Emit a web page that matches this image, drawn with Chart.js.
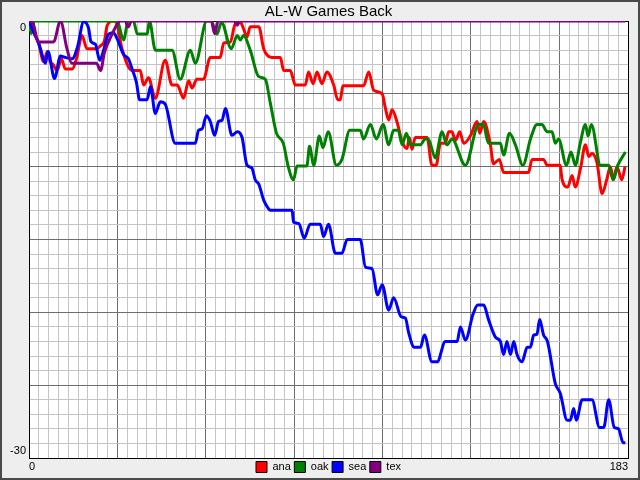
<!DOCTYPE html>
<html>
<head>
<meta charset="utf-8">
<title>AL-W Games Back</title>
<script src="https://cdn.jsdelivr.net/npm/chart.js@4/dist/chart.umd.min.js"></script>
<style>
    html, body { margin: 0; padding: 0; background: #eeeeee; }
    #wrap { position: relative; width: 640px; height: 480px; }
    #frame {
        position: absolute; left: 0; top: 0; width: 640px; height: 480px;
        box-sizing: border-box; border: 2px solid #4a4a4a; pointer-events: none;
    }
</style>
</head>
<body>
<div id="wrap">
    <canvas id="gbChart" width="640" height="480"></canvas>
    <div id="frame"></div>
</div>
<script>
// Games back per team (day of season, games back)
const teams = ['ana', 'oak', 'sea', 'tex'];
const teamColors = ['#ff0000', '#008000', '#0000ff', '#800080'];

const anaDays = [0, 1.4, 2.9, 4.5, 5.6, 6.5, 7.4, 8.6, 9.9, 11.1,
    13.2, 14.5, 16.2, 17.7, 20.8, 21.8, 23.0, 23.9, 25.8, 26.7,
    28.4, 31.5, 34.0, 35.0, 36.5, 38.6, 41.6, 43.7, 45.3, 47.2,
    48.8, 49.8, 51.3, 53.3, 55.4, 58.4, 59.5, 61.5, 63.0, 64.6,
    65.5, 66.6, 67.6, 70.2, 71.7, 74.2, 76.8, 77.8, 79.8, 81.4,
    84.4, 85.4, 86.8, 88.0, 89.5, 91.0, 93.1, 94.3, 95.1, 95.9,
    102.2, 103.8, 105.3, 107.9, 108.9, 109.9, 110.9, 112.4, 114.0, 115.5,
    116.2, 117.0, 118.0, 121.6, 123.1, 124.4, 125.7, 127.2, 128.2, 129.2,
    130.3, 131.6, 132.8, 134.8, 136.9, 137.7, 138.9, 140.9, 141.9, 143.7,
    145.0, 152.6, 153.7, 157.2, 158.3, 162.3, 162.8, 164.6, 165.9, 166.9,
    168.5, 170.0, 171.0, 172.0, 173.5, 175.1, 176.6, 177.6, 178.6, 179.6,
    181.1, 182.1];
const anaBack = [0, -0.75, -1.5, -2.8, -2.1, -2.8, -3.0, -3.4, -2.6, -3.3,
    -3.3, -2.6, -1.0, -1.9, -1.9, -1.7, -1.4, -0.3, 0, -0.1,
    -1.9, -3.4, -3.4, -4.4, -3.9, -5.3, -2.7, -4.4, -4.4, -5.3,
    -4.1, -4.6, -4.0, -4.0, -2.5, -2.5, -1.5, -1.45, -0.2, -0.1,
    -0.5, -1.1, -0.4, -0.4, -1.9, -2.5, -2.5, -3.4, -3.4, -4.4,
    -4.4, -3.5, -4.3, -3.5, -4.3, -3.5, -4.4, -5.4, -5.4, -4.45,
    -4.45, -3.5, -4.75, -5.0, -6.0, -6.8, -6.1, -6.9, -8.3, -8.75,
    -8.0, -8.8, -8.0, -8.0, -9.9, -9.9, -8.4, -8.4, -7.6, -7.6,
    -8.2, -7.6, -8.4, -7.9, -6.9, -7.7, -6.9, -8.4, -9.8, -9.5,
    -10.4, -10.4, -9.5, -9.5, -9.9, -9.9, -10.8, -11.4, -10.6, -11.4,
    -10.1, -8.5, -9.3, -9.1, -9.7, -11.85, -10.8, -10.0, -10.9, -10.0,
    -10.9, -10.0];

const oakDays = [0, 0.7, 1.6, 26.9, 28.9, 30.3, 31.9, 33.1, 36.1, 36.8,
    38.6, 43.7, 46.2, 49.3, 50.8, 54.3, 55.7, 57.4, 58.8, 61.8,
    63.6, 64.6, 65.5, 67.6, 70.1, 72.2, 73.7, 75.6, 77.7, 79.2,
    80.8, 81.9, 84.9, 85.7, 87.0, 88.7, 89.8, 91.4, 93.9, 95.6,
    98.0, 101.2, 102.2, 104.3, 106.1, 108.2, 109.9, 111.4, 112.8, 114.0,
    115.3, 116.5, 119.5, 121.1, 122.0, 124.1, 126.2, 127.7, 129.2, 133.3,
    137.4, 138.8, 140.4, 144.0, 145.0, 146.8, 148.6, 150.9, 153.2, 155.2,
    156.7, 158.3, 159.8, 160.8, 161.8, 164.2, 165.6, 166.9, 168.4, 170.0,
    170.8, 171.8, 174.6, 177.1, 178.4, 179.9, 182.2];
const oakBack = [0, -0.85, 0, 0, -1.3, 0, 0, -0.9, -0.9, 0,
    -2.0, -2.0, -4.0, -2.0, -2.9, 0, 0, -0.9, -0.1, -1.9,
    -1.0, -1.3, -1.0, -2.0, -3.8, -4.0, -5.6, -7.7, -8.4, -10.0,
    -10.9, -9.95, -9.95, -8.6, -9.9, -7.9, -8.7, -7.6, -9.9, -9.5,
    -7.5, -7.5, -8.1, -7.1, -8.1, -7.1, -8.5, -7.5, -7.5, -8.5,
    -7.7, -8.5, -8.5, -8.1, -8.1, -9.4, -7.6, -8.5, -8.1, -9.9,
    -7.1, -7.1, -8.4, -8.4, -9.2, -7.7, -8.5, -9.9, -8.1, -7.1,
    -7.1, -7.6, -7.6, -8.4, -8.1, -9.9, -9.0, -9.9, -8.4, -7.1,
    -7.9, -7.1, -9.9, -9.9, -10.9, -9.9, -9.0];

const seaDays = [0, 1.4, 2.9, 3.5, 5.0, 5.8, 7.8, 9.6, 11.1, 13.2,
    14.8, 16.7, 18.2, 18.9, 20.3, 21.6, 22.8, 24.3, 25.8, 26.9,
    28.9, 30.4, 31.5, 32.8, 33.8, 36.1, 37.1, 38.6, 40.1, 41.6,
    44.7, 50.8, 51.8, 52.9, 54.2, 55.4, 56.7, 57.9, 59.0, 60.0,
    62.0, 63.7, 65.1, 66.6, 68.1, 69.1, 70.2, 71.7, 73.2, 73.7,
    80.4, 80.8, 82.4, 84.1, 85.9, 89.0, 90.0, 91.5, 93.6, 95.6,
    97.2, 101.2, 102.8, 104.8, 106.5, 107.9, 109.9, 111.4, 113.7, 115.0,
    116.0, 117.7, 119.6, 120.8, 123.1, 124.7, 127.2, 130.8, 131.8, 133.3,
    135.7, 137.1, 138.9, 140.4, 142.5, 144.0, 145.0, 146.0, 147.1, 148.1,
    149.1, 150.6, 152.2, 153.2, 154.2, 155.2, 156.0, 157.2, 158.4, 160.8,
    162.3, 164.4, 165.4, 166.4, 167.2, 169.0, 172.0, 174.3, 175.6, 177.1,
    178.8, 180.1, 181.5, 182.2];
const seaBack = [0, -0.75, -1.5, -1.9, -2.9, -2.1, -3.95, -2.4, -2.5, -2.6,
    -1.8, -0.05, -0.5, -1.4, -1.6, -2.7, -2.0, -0.9, -0.8, -1.2,
    -2.3, -2.6, -3.3, -4.2, -5.4, -5.4, -4.5, -6.35, -5.55, -5.7,
    -8.4, -8.4, -7.5, -7.4, -6.5, -6.9, -7.85, -6.9, -6.8, -6.0,
    -7.85, -7.6, -8.0, -9.9, -10.1, -10.9, -11.2, -12.3, -12.9, -13.0,
    -13.0, -13.8, -13.9, -14.9, -13.95, -13.95, -14.8, -13.95, -15.95, -15.95,
    -15.0, -15.0, -16.9, -17.0, -18.8, -18.1, -19.85, -19.0, -20.3, -20.4,
    -21.4, -22.4, -22.4, -21.55, -23.4, -23.4, -22.0, -22.0, -21.0, -21.9,
    -20.1, -19.5, -19.5, -20.5, -21.7, -22.0, -22.9, -22.0, -22.9, -22.0,
    -22.9, -23.4, -22.4, -22.4, -21.55, -21.5, -20.5, -21.55, -22.0, -24.9,
    -25.55, -27.4, -27.4, -26.6, -27.4, -26.0, -26.0, -27.9, -27.9, -26.0,
    -27.9, -28.0, -28.95, -28.95];

const texDays = [0, 1.3, 2.8, 7.5, 9.6, 11.6, 13.1, 20.6, 21.9, 23.0,
    24.3, 25.8, 27.9, 29.4, 30.3, 31.3, 55.7, 56.7, 57.8, 62.7,
    63.6, 64.3, 182.2];
const texBack = [0, -0.2, -1.44, -1.44, 0, -1.9, -2.9, -2.9, -3.4, -2.2,
    -1.44, -0.7, 0, 0, -0.4, 0, 0, -0.87, 0, 0,
    -0.3, 0, 0];

// Axis range and tick labels
const xMax = 183;
const yMin = -30;
const xLabels = { 0: '0', 183: '183' };
const yLabels = { 0: ['', '0'], '-30': ['-30', ''] };

const allDays = [anaDays, oakDays, seaDays, texDays];
const allBack = [anaBack, oakBack, seaBack, texBack];

const FONT = '"Liberation Sans", Arial, sans-serif';

// linear scale whose tick labels are not clipped to the (zero sized) axis box
class OpenLinearScale extends Chart.LinearScale {
    _computeLabelArea() {
        return undefined;
    }
}
OpenLinearScale.id = 'openLinear';
OpenLinearScale.defaults = Chart.LinearScale.defaults;
Chart.register(OpenLinearScale);

// white plot area
const plotBackground = {
    id: 'plotBackground',
    beforeDraw(chart) {
        const a = chart.chartArea;
        const ctx = chart.ctx;
        ctx.save();
        ctx.fillStyle = '#ffffff';
        ctx.fillRect(a.left, a.top, a.right - a.left, a.bottom - a.top);
        ctx.restore();
    }
};

const datasets = teams.map(function(team, i) {
    return {
        label: team,
        data: allDays[i].map((d, j) => ({ x: d, y: allBack[i][j] })),
        borderColor: teamColors[i],
        backgroundColor: teamColors[i],
        borderWidth: 3,
        pointRadius: 0,
        cubicInterpolationMode: 'monotone',
        fill: false,
        order: teams.length - 1 - i   // tex drawn on top
    };
});

new Chart(document.getElementById('gbChart').getContext('2d'), {
    type: 'line',
    data: { datasets: datasets },
    options: {
        responsive: false,
        animation: false,
        devicePixelRatio: 1,
        layout: { padding: { left: 29, right: 12, top: 0, bottom: -2.5 } },
        plugins: {
            title: {
                display: true,
                text: 'AL-W Games Back',
                color: '#000',
                font: { family: FONT, size: 15, weight: 'normal' },
                padding: { top: 3, bottom: 0 }
            },
            legend: {
                position: 'bottom',
                labels: {
                    boxWidth: 11,
                    boxHeight: 11,
                    padding: 3.5,
                    color: '#000',
                    font: { family: FONT, size: 11 },
                    sort: (a, b) => a.datasetIndex - b.datasetIndex,
                    generateLabels: function(chart) {
                        return Chart.defaults.plugins.legend.labels.generateLabels(chart).map(function(item) {
                            item.fillStyle = teamColors[item.datasetIndex];
                            item.strokeStyle = '#000';
                            item.lineWidth = 1;
                            return item;
                        });
                    }
                }
            },
            tooltip: { enabled: false }
        },
        scales: {
            x: {
                type: 'openLinear',
                position: 'bottom',
                min: 0,
                max: xMax,
                afterFit: scale => { scale.height = 0; },
                ticks: {
                    stepSize: 3,
                    autoSkip: false,
                    maxRotation: 0,
                    minRotation: 0,
                    align: 'inner',
                    padding: 2,
                    color: '#000',
                    font: { family: FONT, size: 11 },
                    callback: value => xLabels[value] || ''
                },
                grid: {
                    drawTicks: false,
                    color: ctx => {
                        const v = ctx.tick ? ctx.tick.value : 1;
                        if (v === 0 || v === xMax) return '#000000';
                        return v % 27 === 0 ? '#6e6e6e' : '#c4c4c4';
                    }
                },
                border: { display: true, color: '#000', width: 1 }
            },
            y: {
                type: 'openLinear',
                position: 'left',
                min: yMin,
                max: 0,
                afterFit: scale => { scale.width = 0; },
                ticks: {
                    stepSize: 1,
                    autoSkip: false,
                    padding: 3,
                    color: '#000',
                    font: { family: FONT, size: 11 },
                    callback: value => yLabels[value] || ''
                },
                grid: {
                    drawTicks: false,
                    color: ctx => {
                        const v = ctx.tick ? ctx.tick.value : 1;
                        if (v === 0 || v === yMin) return '#000000';
                        return v % 5 === 0 ? '#6e6e6e' : '#c4c4c4';
                    }
                },
                border: { display: true, color: '#000', width: 1 }
            }
        }
    },
    plugins: [plotBackground]
});
</script>
</body>
</html>
